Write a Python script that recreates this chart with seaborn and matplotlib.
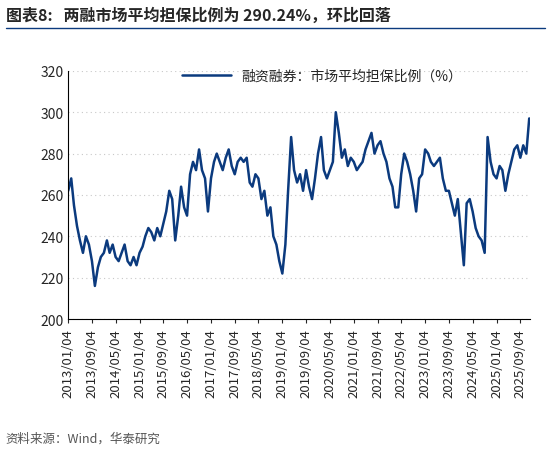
import pandas as pd
import numpy as np
import matplotlib.pyplot as plt
import seaborn as sns

# monthly values, 2013-01 .. 2025-12
v2013 = [262, 268, 255, 245, 238, 232, 240, 236, 228, 216, 225, 230]
v2014 = [232, 238, 232, 236, 230, 228, 232, 236, 228, 226, 230, 226]
v2015 = [232, 235, 240, 244, 242, 238, 244, 240, 246, 252, 262, 258]
v2016 = [238, 250, 264, 254, 250, 270, 276, 272, 282, 272, 268, 252]
v2017 = [268, 276, 280, 276, 272, 278, 282, 274, 270, 276, 278, 276]
v2018 = [278, 266, 264, 270, 268, 258, 262, 250, 254, 240, 236, 228]
v2019 = [222, 236, 262, 288, 272, 266, 270, 262, 272, 264, 258, 268]
v2020 = [280, 288, 272, 268, 272, 276, 300, 290, 278, 282, 274, 278]
v2021 = [276, 272, 274, 276, 282, 286, 290, 280, 284, 286, 280, 276]
v2022 = [268, 264, 254, 254, 270, 280, 276, 270, 262, 252, 268, 270]
v2023 = [282, 280, 276, 274, 276, 278, 268, 262, 262, 256, 250, 258]
v2024 = [242, 226, 256, 258, 252, 244, 240, 238, 232, 288, 276, 270]
v2025 = [268, 274, 272, 262, 270, 276, 282, 284, 278, 284, 280, 297]
values = v2013 + v2014 + v2015 + v2016 + v2017 + v2018 + v2019 + v2020 + v2021 + v2022 + v2023 + v2024 + v2025
dates = pd.date_range('2013-01-01', periods=len(values), freq='MS') + pd.Timedelta(days=3)

tick_labels = ['2013/01/04', '2013/09/04', '2014/05/04', '2015/01/04', '2015/09/04',
               '2016/05/04', '2017/01/04', '2017/09/04', '2018/05/04', '2019/01/04',
               '2019/09/04', '2020/05/04', '2021/01/04', '2021/09/04', '2022/05/04',
               '2023/01/04', '2023/09/04', '2024/05/04', '2025/01/04', '2025/09/04']
tick_dates = pd.to_datetime(tick_labels, format='%Y/%m/%d')

df = pd.DataFrame({'date': dates, 'value': values})

sns.set_style('white')
plt.rcParams['font.family'] = ['Noto Sans CJK SC', 'DejaVu Sans']

fig = plt.figure(figsize=(5.5, 4.52), dpi=100)
ax = fig.add_axes([0.124, 0.292, 0.84, 0.549])
sns.lineplot(data=df, x='date', y='value', ax=ax, color='#0b3a7e', linewidth=1.8,
             label='融资融券：市场平均担保比例（%）')
ax.set_ylim(200, 320)
ax.set_yticks(range(200, 321, 20))
ax.set_xlim(dates[0], dates[-1] + pd.Timedelta(days=10))
ax.set_xticks(tick_dates)
ax.set_xticklabels(tick_labels, rotation=90, fontsize=9.5)
ax.tick_params(axis='y', labelsize=10, length=0)
ax.tick_params(axis='x', length=3, direction='out', bottom=True)
ax.grid(axis='y', linestyle=(0, (1, 3)), color='#c8c8c8')
for s in ['top', 'right']:
    ax.spines[s].set_visible(False)
for s in ['left', 'bottom']:
    ax.spines[s].set_color('black')
ax.set_xlabel('')
ax.set_ylabel('')
ax.legend(loc='upper center', bbox_to_anchor=(0.55, 1.06), frameon=False, fontsize=10, handlelength=3.5)

fig.text(0.01, 0.955, '图表8:   两融市场平均担保比例为 290.24%，环比回落', fontsize=11.5, fontweight='bold')
fig.lines.append(plt.Line2D([0.01, 0.99], [0.935, 0.935], color='#0b3a7e', linewidth=1, transform=fig.transFigure))
fig.text(0.01, 0.02, '资料来源：Wind，华泰研究', fontsize=9, color='#555555')

fig.savefig('out.png', dpi=100)
